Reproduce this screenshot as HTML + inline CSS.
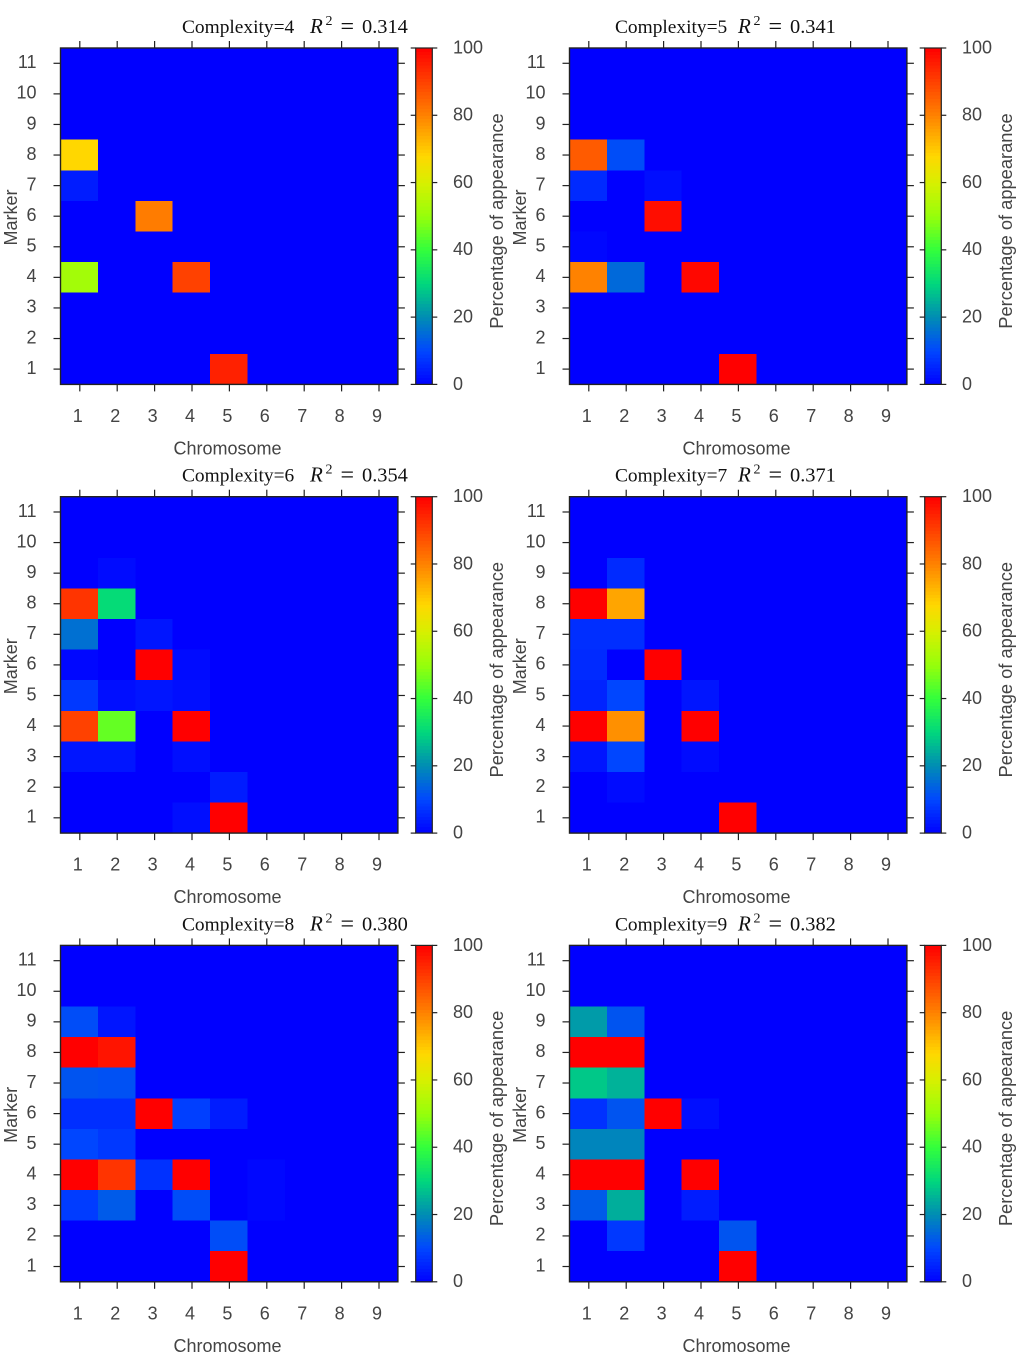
<!DOCTYPE html>
<html lang="en">
<head>
<meta charset="utf-8">
<title>Percentage of appearance by chromosome and marker</title>
<style>
html,body{margin:0;padding:0;background:#fff;width:1024px;height:1361px;overflow:hidden}
svg{display:block}
.lbl{font-family:"Liberation Sans",sans-serif;font-size:18px;fill:#444}
.ttl{font-family:"Liberation Serif",serif;fill:#111}
</style>
</head>
<body>
<svg id="figure" xmlns="http://www.w3.org/2000/svg" width="1024" height="1361" viewBox="0 0 1024 1361"></svg>
<script>
const chromosomes = [1, 2, 3, 4, 5, 6, 7, 8, 9];
const markers = [11, 10, 9, 8, 7, 6, 5, 4, 3, 2, 1];
const colorbarTicks = [0, 20, 40, 60, 80, 100];
const complexities = [4, 5, 6, 7, 8, 9];
const r2Values = ["0.314", "0.341", "0.354", "0.371", "0.380", "0.382"];

// Rows run from marker 11 (first) down to marker 1 (last); columns are chromosomes 1-9.
const complexity4 = [
  [0,0,0,0,0,0,0,0,0],
  [0,0,0,0,0,0,0,0,0],
  [0,0,0,0,0,0,0,0,0],
  [68,0,0,0,0,0,0,0,0],
  [4,0,0,0,0,0,0,0,0],
  [0,0,81,0,0,0,0,0,0],
  [0,0,0,0,0,0,0,0,0],
  [52,0,0,90,0,0,0,0,0],
  [0,0,0,0,0,0,0,0,0],
  [0,0,0,0,0,0,0,0,0],
  [0,0,0,0,95,0,0,0,0]
];
const complexity5 = [
  [0,0,0,0,0,0,0,0,0],
  [0,0,0,0,0,0,0,0,0],
  [0,0,0,0,0,0,0,0,0],
  [86,11,0,0,0,0,0,0,0],
  [6,0,2,0,0,0,0,0,0],
  [0,0,98,0,0,0,0,0,0],
  [1,0,0,0,0,0,0,0,0],
  [80,15,0,99,0,0,0,0,0],
  [0,0,0,0,0,0,0,0,0],
  [0,0,0,0,0,0,0,0,0],
  [0,0,0,0,100,0,0,0,0]
];
const complexity6 = [
  [0,0,0,0,0,0,0,0,0],
  [0,0,0,0,0,0,0,0,0],
  [0,1.5,0,0,0,0,0,0,0],
  [92,31,0,0,0,0,0,0,0],
  [16,0,3,0,0,0,0,0,0],
  [1,0,100,1.5,0,0,0,0,0],
  [8,2,3,2,0,0,0,0,0],
  [90,45,0,100,0,0,0,0,0],
  [3,3,0,2,0,0,0,0,0],
  [0,0,0,0,4,0,0,0,0],
  [0,0,0,2,100,0,0,0,0]
];
const complexity7 = [
  [0,0,0,0,0,0,0,0,0],
  [0,0,0,0,0,0,0,0,0],
  [0,6,0,0,0,0,0,0,0],
  [100,75,0,0,0,0,0,0,0],
  [6.5,6.5,0,0,0,0,0,0,0],
  [6,0,100,0,0,0,0,0,0],
  [5,10,0,3,0,0,0,0,0],
  [100,78,0,100,0,0,0,0,0],
  [3,10,0,1.5,0,0,0,0,0],
  [0,1.5,0,0,0,0,0,0,0],
  [0,0,0,0,100,0,0,0,0]
];
const complexity8 = [
  [0,0,0,0,0,0,0,0,0],
  [0,0,0,0,0,0,0,0,0],
  [11,3,0,0,0,0,0,0,0],
  [100,97,0,0,0,0,0,0,0],
  [12,11.5,0,0,0,0,0,0,0],
  [6.5,6.5,100,9,4,0,0,0,0],
  [10,8,0,0,0,0,0,0,0],
  [100,92,7,100,0,1,0,0,0],
  [8.5,13,0,11,0,1,0,0,0],
  [0,0,0,0,11,0,0,0,0],
  [0,0,0,0,100,0,0,0,0]
];
const complexity9 = [
  [0,0,0,0,0,0,0,0,0],
  [0,0,0,0,0,0,0,0,0],
  [22,12,0,0,0,0,0,0,0],
  [100,100,0,0,0,0,0,0,0],
  [28,25,0,0,0,0,0,0,0],
  [7,12,100,2,0,0,0,0,0],
  [19,19,0,0,0,0,0,0,0],
  [100,100,0,100,0,0,0,0,0],
  [13,24.5,0,4,0,0,0,0,0],
  [0,8,0,0,12,0,0,0,0],
  [0,0,0,0,100,0,0,0,0]
];
const panelGrids = [complexity4, complexity5, complexity6, complexity7, complexity8, complexity9];

const colorStopValues = [0, 10, 20, 30, 40, 50, 60, 68, 80, 90, 100];
const colorStopRed = [0, 0, 0, 0, 50, 150, 215, 255, 255, 255, 255];
const colorStopGreen = [0, 70, 140, 215, 255, 255, 240, 215, 130, 65, 0];
const colorStopBlue = [255, 255, 180, 125, 60, 10, 0, 0, 0, 0, 0];

const NS = "http://www.w3.org/2000/svg";
const figure = document.getElementById("figure");

function colorFor(v) {
  const c = Math.max(0, Math.min(100, v));
  let i = 0;
  while (i < colorStopValues.length - 2 && c > colorStopValues[i + 1]) i++;
  const t = (c - colorStopValues[i]) / (colorStopValues[i + 1] - colorStopValues[i]);
  const mix = function (a) { return Math.round(a[i] + (a[i + 1] - a[i]) * t); };
  return "rgb(" + mix(colorStopRed) + "," + mix(colorStopGreen) + "," + mix(colorStopBlue) + ")";
}

function make(parent, tag, attrs, text) {
  const el = document.createElementNS(NS, tag);
  for (const k in attrs) el.setAttribute(k, attrs[k]);
  if (text !== undefined) el.textContent = text;
  parent.appendChild(el);
  return el;
}

function drawLine(parent, name, x1, y1, x2, y2, width) {
  const el = make(parent, "line", { x1: x1, y1: y1, x2: x2, y2: y2, stroke: "#222", "stroke-width": width });
  
  
  return el;
}

function drawLabel(parent, name, x, y, anchor, text, extra) {
  const el = make(parent, "text", Object.assign({ x: x, y: y, "text-anchor": anchor, "class": "lbl" }, extra || {}), text);
  
  
  return el;
}

function drawTitlePart(parent, name, x, y, size, text, italic) {
  const el = make(parent, "text", { x: x, y: y, "font-size": size, "class": "ttl", "font-style": italic ? "italic" : "normal" }, text);
  
  
  return el;
}

function drawPanel(index) {
  const col = index % 2;
  const row = Math.floor(index / 2);
  const dx = col * 509;
  const top = 48 + row * 448.7;
  const plotLeft = 60.5 + dx;
  const plotW = 337.4;
  const plotH = 336.4;
  const plotBottom = top + plotH;
  const cellW = 37.4;
  const cellH = plotH / markers.length;
  const xEdge = function (c) { return plotLeft + c * cellW; };
  const yEdge = function (r) { return top + r * cellH; };
  const xTick = function (c) { return xEdge(c) + cellW / 2 + 0.6; };
  const yTick = function (r) { return yEdge(r) + cellH / 2; };
  const cbLeft = 415.7 + dx;
  const cbRight = 432.3 + dx;
  const cbY = function (v) { return plotBottom - (v / 100) * plotH; };

  const g = make(figure, "g", {});
  
  

  // Title
  const titleY = top - 15;
  const titleG = make(g, "g", {});
  
  
  const textX = col ? 615 : 182;
  const mathX = col ? 738 : 310;
  drawTitlePart(titleG, "title-complexity", textX, titleY, 19.4, "Complexity=" + complexities[index], false);
  drawTitlePart(titleG, "title-r-symbol", mathX, titleY, 21, "R", true);
  drawTitlePart(titleG, "title-r-exponent", mathX + 15.5, titleY - 8, 14, "2", false);
  drawTitlePart(titleG, "title-equals", mathX + 30.5, titleY + 1, 24, "=", false);
  drawTitlePart(titleG, "title-r2-value", mathX + 52, titleY, 20.4, r2Values[index], false);

  // Heatmap cells
  const cells = make(g, "g", { "shape-rendering": "crispEdges" });
  
  
  panelGrids[index].forEach(function (rowValues, r) {
    rowValues.forEach(function (value, c) {
      const rect = make(cells, "rect", {
        x: xEdge(c), y: yEdge(r), width: cellW + 0.4, height: cellH + 0.4, fill: colorFor(value)
      });
      
      
    });
  });

  // Frame
  const frame = make(g, "rect", { x: plotLeft, y: top, width: plotW, height: plotH, fill: "none", stroke: "#222", "stroke-width": 1.4 });
  
  

  // X axis
  chromosomes.forEach(function (label, c) {
    const x = xTick(c);
    drawLine(g, "x-tick-bottom", x, plotBottom, x, plotBottom + 7, 1.2);
    drawLine(g, "x-tick-top", x, top, x, top - 7, 1.2);
    drawLabel(g, "x-tick-label", x - 2, plotBottom + 37.5, "middle", label);
  });
  drawLabel(g, "x-axis-title", 227.5 + dx, plotBottom + 70, "middle", "Chromosome");

  // Y axis
  markers.forEach(function (label, r) {
    const y = yTick(r);
    drawLine(g, "y-tick-left", plotLeft - 7, y, plotLeft, y, 1.2);
    drawLine(g, "y-tick-right", plotLeft + plotW, y, plotLeft + plotW + 7, y, 1.2);
    drawLabel(g, "y-tick-label", 36.5 + dx, y + 4.8, "end", label);
  });
  const yTitleY = top + 169.5;
  drawLabel(g, "y-axis-title", 17 + dx, yTitleY, "middle", "Marker", { transform: "rotate(-90 " + (17 + dx) + " " + yTitleY + ")" });

  // Colorbar
  const bar = make(g, "g", { "shape-rendering": "crispEdges" });
  
  
  for (let v = 0; v < 100; v++) {
    const seg = make(bar, "rect", {
      x: cbLeft, y: cbY(v + 1), width: cbRight - cbLeft, height: plotH / 100 + 0.5, fill: colorFor(v + 0.5)
    });
    
    
  }
  const cbFrame = make(g, "rect", { x: cbLeft, y: top, width: cbRight - cbLeft, height: plotH, fill: "none", stroke: "#222", "stroke-width": 1.2 });
  
  
  colorbarTicks.forEach(function (value) {
    const y = cbY(value);
    drawLine(g, "colorbar-tick-left", cbLeft - 5, y, cbLeft, y, 1.2);
    drawLine(g, "colorbar-tick-right", cbRight, y, cbRight + 5, y, 1.2);
    drawLabel(g, "colorbar-tick-label", 453 + dx, y + 5.4, "start", value);
  });
  const cbTitleY = top + 173;
  drawLabel(g, "colorbar-title", 503 + dx, cbTitleY, "middle", "Percentage of appearance", { transform: "rotate(-90 " + (503 + dx) + " " + cbTitleY + ")", style: "font-size:18.3px" });
}

complexities.forEach(function (_, i) { drawPanel(i); });
</script>
</body>
</html>
